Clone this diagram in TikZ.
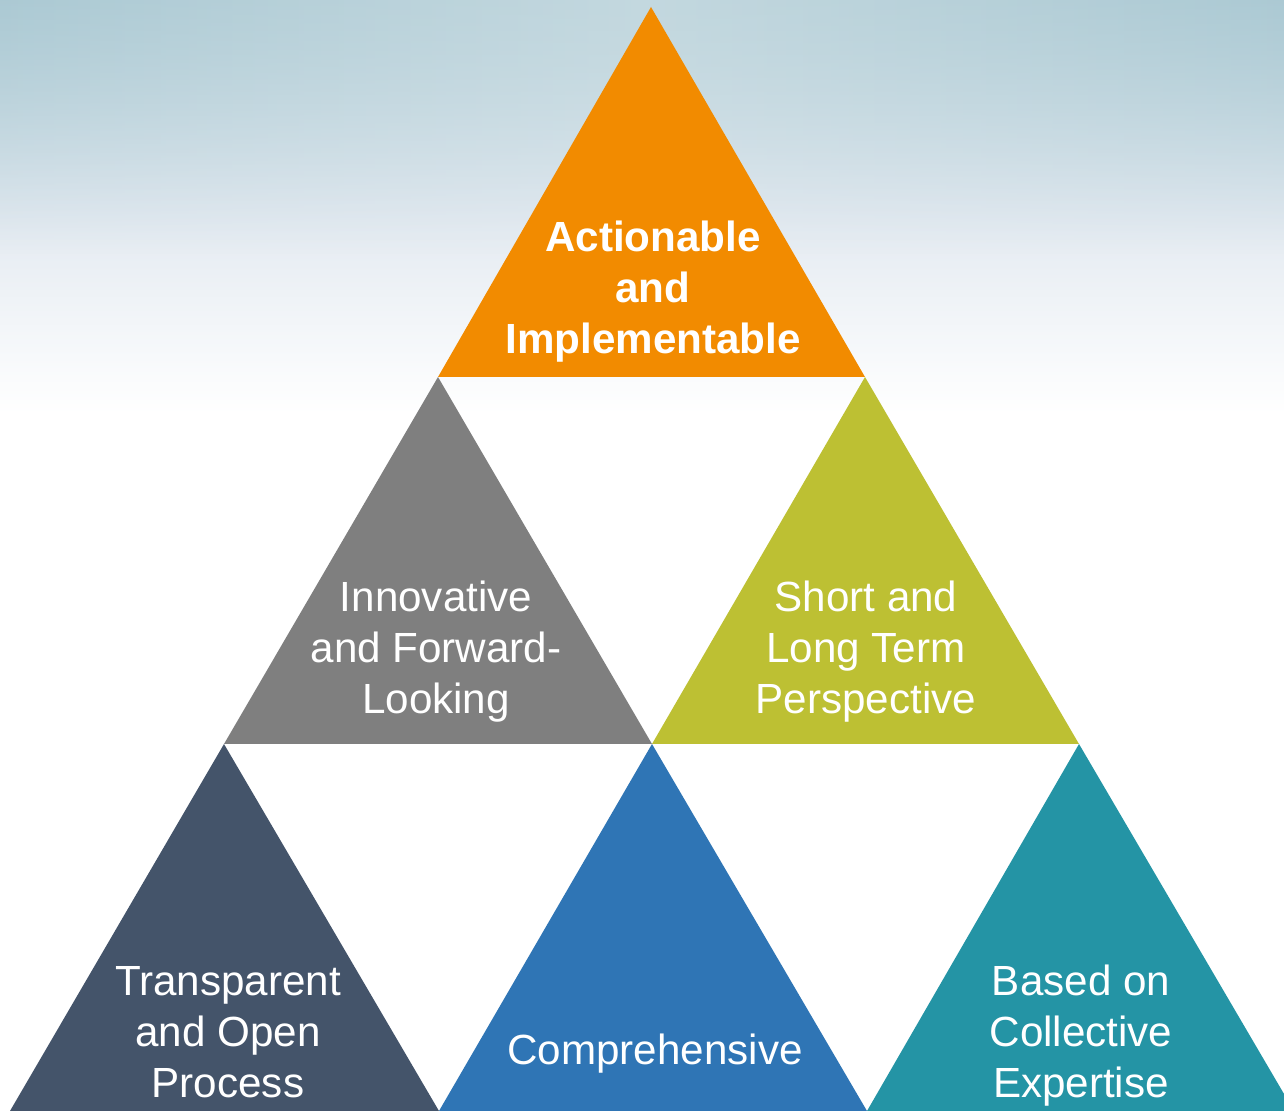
\documentclass[tikz,border=0pt]{standalone}
\usepackage{fontspec}
\setmainfont{Liberation Sans}
\usepackage{xcolor}
\usetikzlibrary{fadings}
\definecolor{skytop}{HTML}{C3D8DF}
\definecolor{skyedge}{HTML}{A6C6D1}
\definecolor{skymid}{HTML}{E2E9F0}
\definecolor{amber}{HTML}{F28B00}
\definecolor{slate}{HTML}{7F7F7F}
\definecolor{olive}{HTML}{BDC033}
\definecolor{navy}{HTML}{44546A}
\definecolor{ocean}{HTML}{2F75B5}
\definecolor{teal}{HTML}{2494A5}
\tikzset{
  pillar/.style={white, align=center, font=\fontsize{12}{14.5}\selectfont},
  pillarbold/.style={pillar, font=\fontsize{12}{14.5}\selectfont\bfseries}
}

\begin{document}
\begin{tikzpicture}
    \useasboundingbox (0,0) rectangle (12.84,11.14);
    \clip (0,0) rectangle (12.84,11.14);

    % Background
    \fill[white] (0,0) rectangle (12.84,11.14);
    \shade[top color=skytop, bottom color=white, middle color=skymid] (0,7.0) rectangle (12.84,11.14);
    \shade[left color=skyedge, right color=skyedge, middle color=skytop, path fading=south, opacity=0.8] (0,8.6) rectangle (12.84,11.14);

    % Top row
    \fill[amber] (4.38,7.37) -- (6.51,11.07) -- (8.65,7.37) -- cycle;
    \node[pillarbold] (actionable) at (6.53,8.22) {Actionable\\and\\Implementable};

    % Middle row
    \fill[slate] (2.24,3.70) -- (4.38,7.37) -- (6.52,3.70) -- cycle;
    \node[pillar] (innovative) at (4.36,4.62) {Innovative\\and Forward-\\Looking};

    \fill[olive] (6.52,3.70) -- (8.65,7.37) -- (10.79,3.70) -- cycle;
    \node[pillar] (shortlong) at (8.66,4.62) {Short and\\Long Term\\Perspective};

    % Bottom row
    \fill[navy] (0.10,0.03) -- (2.24,3.70) -- (4.39,0.03) -- cycle;
    \node[pillar] (transparent) at (2.28,0.82) {Transparent\\and Open\\Process};

    \fill[ocean] (4.39,0.03) -- (6.52,3.70) -- (8.67,0.03) -- cycle;
    \node[pillar] (comprehensive) at (6.55,0.60) {Comprehensive};

    \fill[teal] (8.67,0.03) -- (10.79,3.70) -- (12.94,0.03) -- cycle;
    \node[pillar] (collective) at (10.81,0.78) {Based on\\Collective\\Expertise};
\end{tikzpicture}
\end{document}
